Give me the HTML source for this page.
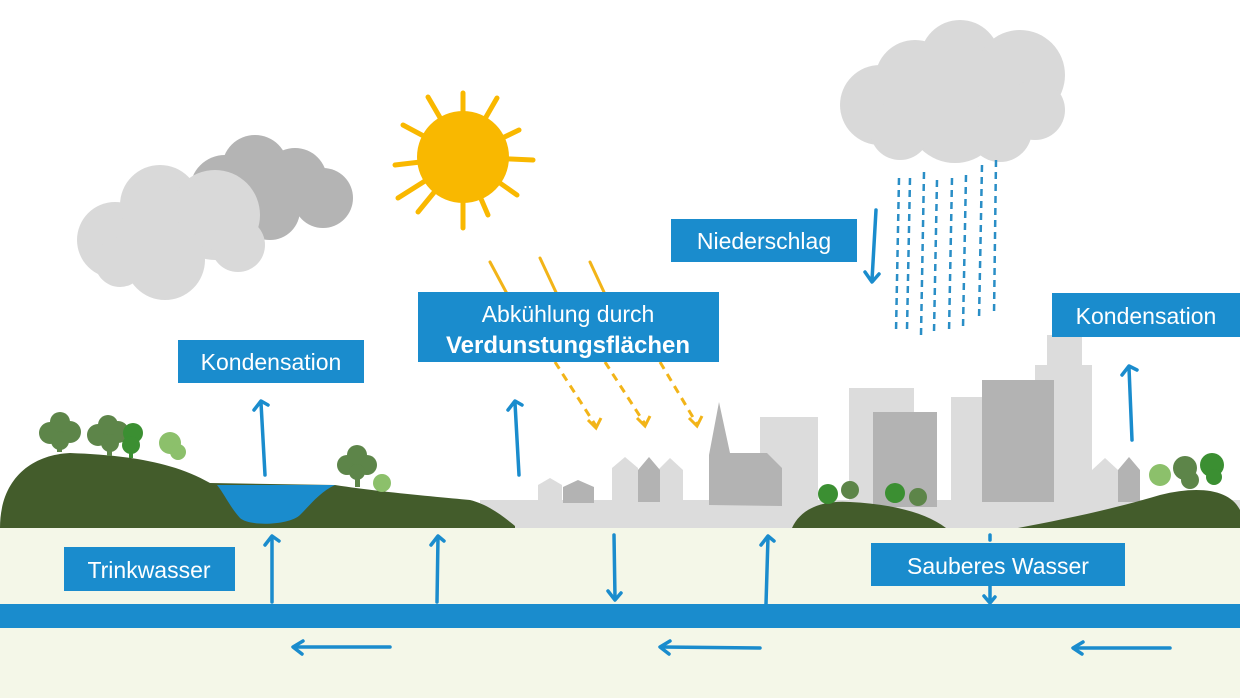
<!DOCTYPE html>
<html><head><meta charset="utf-8"><style>
html,body{margin:0;padding:0;background:#fff;}
svg{display:block;}
text{font-family:"Liberation Sans",sans-serif;fill:#fff;}
</style></head><body>
<svg width="1240" height="698" viewBox="0 0 1240 698" xmlns="http://www.w3.org/2000/svg">
<rect width="1240" height="698" fill="#fff"/>
<!-- clouds -->
<g fill="#b4b4b4">
<circle cx="225" cy="190" r="35"/><circle cx="255" cy="168" r="33"/><circle cx="295" cy="180" r="32"/><circle cx="323" cy="198" r="30"/><circle cx="270" cy="210" r="30"/>
</g>
<g fill="#d9d9d9">
<circle cx="115" cy="240" r="38"/><circle cx="160" cy="205" r="40"/><circle cx="215" cy="215" r="45"/><circle cx="238" cy="245" r="27"/><circle cx="165" cy="260" r="40"/><circle cx="120" cy="262" r="25"/>
<circle cx="880" cy="105" r="40"/><circle cx="915" cy="80" r="40"/><circle cx="960" cy="60" r="40"/><circle cx="1020" cy="75" r="45"/><circle cx="1035" cy="110" r="30"/><circle cx="955" cy="115" r="48"/><circle cx="900" cy="130" r="30"/><circle cx="1000" cy="130" r="32"/>
</g>
<!-- sun -->
<g stroke="#f9b800" stroke-width="5" stroke-linecap="round">
<line x1="463" y1="157" x2="463" y2="93"/><line x1="463" y1="157" x2="463" y2="228"/>
<line x1="463" y1="157" x2="395" y2="165"/><line x1="463" y1="157" x2="533" y2="160"/>
<line x1="463" y1="157" x2="428" y2="97"/><line x1="463" y1="157" x2="497" y2="98"/>
<line x1="463" y1="157" x2="403" y2="125"/><line x1="463" y1="157" x2="519" y2="130"/>
<line x1="463" y1="157" x2="398" y2="198"/><line x1="463" y1="157" x2="517" y2="195"/>
<line x1="463" y1="157" x2="418" y2="212"/><line x1="463" y1="157" x2="488" y2="215"/>
</g>
<circle cx="463" cy="157" r="46" fill="#f9b800"/>
<!-- sun rays -->
<g stroke="#f2b418" stroke-width="3" fill="none" stroke-linecap="round">
<path d="M490 262 L520 318"/><path d="M540 258 L568 318"/><path d="M590 262 L616 318"/>
</g>
<g stroke="#f2b418" stroke-width="3" fill="none" stroke-dasharray="8 6">
<path d="M555 362 L596 426"/><path d="M605 362 L645 424"/><path d="M660 362 L697 424"/>
</g>
<g stroke="#f2b418" stroke-width="3" fill="none"><path d="M588 420 L596 428 L601 418"/><path d="M637 418 L645 426 L650 416"/><path d="M689 418 L697 426 L702 416"/></g>
<!-- rain -->
<g stroke="#2a8ec6" stroke-width="2.5" stroke-dasharray="7 5" fill="none">
<path d="M899 178 L896 332"/><path d="M910 178 L907 330"/><path d="M924 172 L921 335"/><path d="M937 180 L934 332"/><path d="M952 178 L949 333"/><path d="M966 175 L963 328"/><path d="M982 165 L979 320"/><path d="M996 160 L994 315"/>
</g>
<!-- ground -->
<rect x="0" y="528" width="1240" height="170" fill="#f4f7e8"/>
<rect x="0" y="604" width="1240" height="24" fill="#1a8ccd"/>
<!-- town band -->
<rect x="480" y="500" width="760" height="28" fill="#dcdcdc"/>
<!-- buildings -->
<g fill="#dcdcdc">
<rect x="760" y="417" width="58" height="90"/>
<rect x="849" y="388" width="65" height="120"/>
<rect x="951" y="397" width="64" height="110"/>
<path d="M1047 335 H1082 V365 H1092 V505 H1035 V365 H1047 Z"/>
<path d="M538 485 L550 478 L562 485 V500 H538Z"/>
<path d="M612 468 L625 457 L638 468 V502 H612Z"/><path d="M658 470 L670 458 L683 470 V502 H658Z"/>
<path d="M1092 470 L1105 458 L1118 470 V502 H1092Z"/>
</g>
<g fill="#b3b3b3">
<rect x="873" y="412" width="64" height="95"/>
<rect x="982" y="380" width="72" height="122"/>
<path d="M709 505 V455 L719 402 L730 453 H767 L782 468 V506Z"/>
<path d="M563 487 L578 480 L594 487 V503 H563Z"/>
<path d="M638 470 L649 457 L660 470 V502 H638Z"/>
<path d="M1118 470 L1129 457 L1140 470 V502 H1118Z"/>
</g>
<!-- hills -->
<path d="M0 528 C0 480 30 455 70 453 C120 455 170 460 210 483 L335 485 C380 492 440 497 470 500 C490 505 505 518 515 526 L515 528 Z" fill="#435c2b"/>
<path d="M217 485 L335 485 C320 492 310 505 300 515 C290 525 250 527 240 518 C230 507 225 495 217 485Z" fill="#1a8ccd"/>
<path d="M792 528 C800 510 820 500 850 502 C890 504 925 512 946 528Z" fill="#435c2b"/>
<path d="M1018 528 C1060 520 1110 510 1160 495 C1200 485 1230 490 1240 510 V528Z" fill="#435c2b"/>
<!-- trees -->
<g fill="#5d8549">
<rect x="57" y="430" width="5" height="22"/><circle cx="50" cy="433" r="11"/><circle cx="70" cy="432" r="11"/><circle cx="60" cy="422" r="10"/><circle cx="60" cy="441" r="9"/>
<rect x="107" y="432" width="5" height="24"/><circle cx="98" cy="435" r="11"/><circle cx="118" cy="432" r="11"/><circle cx="108" cy="425" r="10"/><circle cx="110" cy="443" r="9"/>
<rect x="355" y="462" width="5" height="25"/><circle cx="347" cy="465" r="10"/><circle cx="367" cy="465" r="10"/><circle cx="357" cy="455" r="10"/><circle cx="357" cy="472" r="8"/>
<circle cx="1185" cy="468" r="12"/><circle cx="1190" cy="480" r="9"/>
<circle cx="850" cy="490" r="9"/><circle cx="918" cy="497" r="9"/>
</g>
<g fill="#3b8f32">
<circle cx="133" cy="433" r="10"/><circle cx="131" cy="445" r="9"/><rect x="129" y="438" width="4" height="20"/>
<circle cx="828" cy="494" r="10"/><circle cx="895" cy="493" r="10"/><circle cx="1212" cy="465" r="12"/><circle cx="1214" cy="477" r="8"/>
</g>
<g fill="#8cc06b">
<circle cx="170" cy="443" r="11"/><circle cx="178" cy="452" r="8"/><circle cx="382" cy="483" r="9"/><circle cx="1160" cy="475" r="11"/>
</g>
<!-- blue arrows -->
<g stroke="#1a8ccd" stroke-width="3.5" fill="none" stroke-linecap="round" stroke-linejoin="round">
<path d="M265 475 L261 403"/><path d="M254 410 L261 401 L268 405"/>
<path d="M519 475 L515 403"/><path d="M508 410 L515 401 L522 405"/>
<path d="M1132 440 L1129 368"/><path d="M1122 375 L1129 366 L1137 370"/>
<path d="M272 602 L272 537"/><path d="M265 545 L272 536 L279 541"/>
<path d="M437 602 L438 537"/><path d="M431 545 L438 536 L444 541"/>
<path d="M766 604 L768 537"/><path d="M761 545 L768 536 L774 541"/>
<path d="M614 535 L615 598"/><path d="M608 591 L615 600 L621 593"/>
<path d="M990 535 L990 540"/><path d="M990 586 L990 602"/><path d="M984 596 L990 603 L995 597"/>
<path d="M876 210 L872 280"/><path d="M865 272 L872 282 L879 274"/>
<path d="M390 647 L295 647"/><path d="M303 641 L293 647 L302 654"/>
<path d="M760 648 L662 647"/><path d="M670 641 L660 647 L669 654"/>
<path d="M1170 648 L1075 648"/><path d="M1083 642 L1073 648 L1082 654"/>
</g>
<!-- labels -->
<g fill="#1a8ccd">
<rect x="178" y="340" width="186" height="43"/>
<rect x="418" y="292" width="301" height="70"/>
<rect x="671" y="219" width="186" height="43"/>
<rect x="1052" y="293" width="188" height="44"/>
<rect x="64" y="547" width="171" height="44"/>
<rect x="871" y="543" width="254" height="43"/>
</g>
<text x="271" y="370" font-size="23" text-anchor="middle">Kondensation</text>
<text x="568" y="322" font-size="23" text-anchor="middle">Abkühlung durch</text>
<text x="568" y="353" font-size="24" font-weight="bold" text-anchor="middle">Verdunstungsflächen</text>
<text x="764" y="249" font-size="23" text-anchor="middle">Niederschlag</text>
<text x="1146" y="324" font-size="23" text-anchor="middle">Kondensation</text>
<text x="149" y="578" font-size="23" text-anchor="middle">Trinkwasser</text>
<text x="998" y="574" font-size="23" text-anchor="middle">Sauberes Wasser</text>
</svg>
</body></html>
